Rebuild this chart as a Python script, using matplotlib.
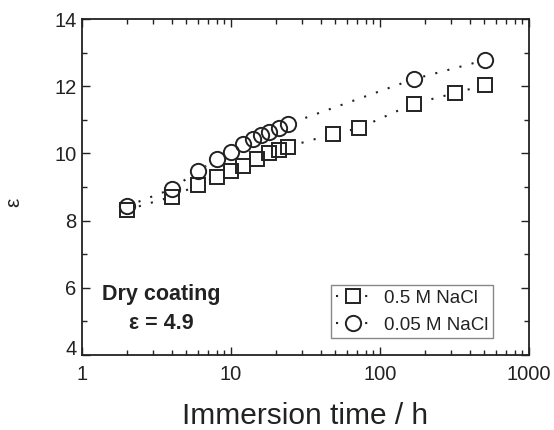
import matplotlib
matplotlib.use("Agg")
import matplotlib.pyplot as plt
import matplotlib.transforms as mtransforms
from matplotlib.lines import Line2D
from matplotlib.ticker import LogLocator, MultipleLocator, FixedLocator, FixedFormatter

plt.rcParams['font.family'] = ['Liberation Sans', 'DejaVu Sans']

# Data
t_05 = [2, 4, 6, 8, 10, 12, 15, 18, 21, 24, 48, 72, 168, 316, 508]
eps_05 = [8.32, 8.71, 9.06, 9.29, 9.48, 9.63, 9.82, 10.0, 10.1, 10.2, 10.57, 10.75, 11.48, 11.79, 12.04]
t_005 = [2, 4, 6, 8, 10, 12, 14, 16, 18, 21, 24, 168, 508]
eps_005 = [8.43, 8.94, 9.48, 9.82, 10.05, 10.27, 10.42, 10.55, 10.65, 10.75, 10.87, 12.21, 12.78]

label_05 = "0.5 M NaCl"
label_005 = "0.05 M NaCl"
xticks = [1, 10, 100, 1000]
xticklabels = ["1", "10", "100", "1000"]
yticks = [4, 6, 8, 10, 12, 14]

ink = '#222222'
fig = plt.figure(figsize=(5.54, 4.30), dpi=100)
ax = fig.add_axes([0.148, 0.1744, 0.807, 0.7814])

ls = (0, (1, 5))
series = [(t_05, eps_05, 's', 9.5, label_05), (t_005, eps_005, 'o', 11, label_005)]
handles = []
for t, e, m, ms, lab in series:
    # dotted connecting line
    ax.plot(t, e, linestyle=ls, lw=1.5, color=ink, zorder=1)
    # white knock-out under the markers
    ax.plot(t, e, linestyle='none', marker=m, ms=ms, mfc='white', mec='white', mew=1.4, zorder=2)
    # open marker outlines
    ax.plot(t, e, linestyle='none', marker=m, ms=ms, mfc='none', mec=ink, mew=1.4, zorder=3)
    handles.append(Line2D([], [], linestyle=(0, (1, 13)), lw=1.5, color=ink, marker=m, ms=ms,
                          mfc='white', mec=ink, mew=1.4, label=lab))

ax.set_xscale('log')
ax.set_xlim(1, 1000)
ax.set_ylim(4, 14)
ax.xaxis.set_major_locator(FixedLocator(xticks))
ax.xaxis.set_major_formatter(FixedFormatter(xticklabels))
ax.xaxis.set_minor_locator(LogLocator(base=10, subs=range(2, 10)))
ax.yaxis.set_major_locator(FixedLocator(yticks))
ax.yaxis.set_minor_locator(MultipleLocator(1))

ax.tick_params(which='both', direction='in', top=True, right=True, colors=ink,
               labelcolor=ink, width=1.0)
ax.tick_params(which='major', length=6, labelsize=14.5)
ax.tick_params(axis='x', which='major', pad=7)
ax.tick_params(axis='y', which='major', pad=4)
ax.tick_params(which='minor', length=3.5)
for s in ax.spines.values():
    s.set_color(ink)
    s.set_linewidth(1.3)

# lift the bottom "4" label a little, as in the reference
fig.canvas.draw()
ylabels = ax.get_yticklabels()
if ylabels:
    ylabels[0].set_transform(ylabels[0].get_transform() +
                             mtransforms.ScaledTranslation(0, 8 / 100, fig.dpi_scale_trans))

ax.set_xlabel("Immersion time / h", fontsize=21.5, color=ink, labelpad=13)
ax.set_ylabel("ε", fontsize=15, color=ink)
ax.yaxis.set_label_coords(-0.132, 0.455)

ax.text(0.044, 0.18, "Dry coating", transform=ax.transAxes, fontsize=15.5,
        fontweight='bold', color=ink, ha='left', va='center')
ax.text(0.105, 0.095, "ε = 4.9", transform=ax.transAxes, fontsize=15.5,
        fontweight='bold', color=ink, ha='left', va='center')

leg = ax.legend(handles=handles, loc='lower right', bbox_to_anchor=(0.919, 0.05),
                fontsize=13.5, frameon=True, fancybox=False, edgecolor='#888888',
                framealpha=1, handlelength=1.85, handletextpad=0.7, borderpad=0.25,
                labelspacing=0.5, borderaxespad=0)
leg.get_frame().set_linewidth(1.0)
for txt in leg.get_texts():
    txt.set_color(ink)

fig.savefig("out.png", dpi=100)
